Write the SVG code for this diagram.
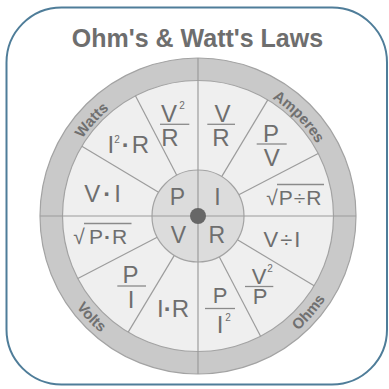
<svg xmlns="http://www.w3.org/2000/svg" width="389" height="389" viewBox="0 0 389 389">
<style>
.t{font-family:"Liberation Sans",Arial,sans-serif;fill:#6e6e6e;text-anchor:middle}
.f{font-size:24px}
.s{font-size:24px}
.r{font-size:21px}
.c{font-size:23px}
.sup{font-size:10px}
.dot{font-weight:bold}
.lab{font-family:"Liberation Sans",Arial,sans-serif;font-weight:bold;font-size:15px;fill:#707070;text-anchor:middle}
.div{stroke:#9c9c9c;stroke-width:1.2;fill:none}
.fr{stroke:#8a8a8a;stroke-width:1.3}
</style>
<defs>
<path id="pW" d="M59.1,211.15 A139,139 0 0 1 178.65,78.35"/>
<path id="pA" d="M211.32,77.64 A139,139 0 0 1 336.57,205.09"/>
<path id="pV" d="M46.28,225.28 A152,152 0 0 0 180.79,367.02"/>
<path id="pO" d="M221.78,366.13 A152,152 0 0 0 349.98,218.65"/>
</defs>
<rect x="0" y="0" width="389" height="389" fill="#ffffff"/>
<rect id="frame" x="6.5" y="7.5" width="380.5" height="377" rx="55" fill="#ffffff" stroke="#4f7d99" stroke-width="2"/>
<text class="t" x="197.5" y="46.5" style="font-size:25px;font-weight:bold;fill:#6e6e6e">Ohm's &amp; Watt's Laws</text>
<g id="wheel">
<circle cx="198" cy="216" r="158" fill="#c9c9c9" stroke="#a3a3a3" stroke-width="1.2"/>
<circle cx="198" cy="216" r="135.5" fill="#efefef" stroke="#a3a3a3" stroke-width="1.2"/>
</g>
<g id="connectors">
<line class="div" x1="221.69" y1="176.57" x2="267.79" y2="99.85"/>
<line class="div" x1="174.31" y1="255.43" x2="128.21" y2="332.15"/>
<line class="div" x1="238.80" y1="194.76" x2="318.19" y2="153.43"/>
<line class="div" x1="157.20" y1="237.24" x2="77.81" y2="278.57"/>
<line class="div" x1="237.43" y1="239.69" x2="314.15" y2="285.79"/>
<line class="div" x1="158.57" y1="192.31" x2="81.85" y2="146.21"/>
<line class="div" x1="219.24" y1="256.80" x2="260.57" y2="336.19"/>
<line class="div" x1="176.76" y1="175.20" x2="135.43" y2="95.81"/>
</g>
<g id="center">
<circle cx="198" cy="216" r="46" fill="#dcdcdc" stroke="#a3a3a3" stroke-width="1.2"/>
</g>
<g id="axes">
<line class="div" x1="198" y1="58" x2="198" y2="374"/>
<line class="div" x1="40" y1="216" x2="356" y2="216"/>
</g>
<circle id="hub" cx="198" cy="216" r="8" fill="#676767"/>
<g id="center-letters">
<text class="t c" x="177.5" y="205">P</text>
<text class="t c" x="217.5" y="205">I</text>
<text class="t c" x="178.3" y="243.3">V</text>
<text class="t c" x="216.7" y="243.3">R</text>
</g>
<g id="ring-labels">
<text class="lab"><textPath href="#pW" startOffset="50%">Watts</textPath></text>
<text class="lab"><textPath href="#pA" startOffset="50%">Amperes</textPath></text>
<text class="lab"><textPath href="#pV" startOffset="50%">Volts</textPath></text>
<text class="lab"><textPath href="#pO" startOffset="50%">Ohms</textPath></text>
</g>
<g id="n-V2R">
<text class="t f" x="169" y="121.5">V</text>
<text class="t sup" x="182" y="109">2</text>
<line class="fr" x1="160" y1="124.3" x2="189.3" y2="124.3"/>
<text class="t f" x="170" y="146">R</text>
</g>
<g id="n-I2R">
<text class="t s" x="128.3" y="152.7">I<tspan class="sup" dy="-10">2</tspan><tspan class="dot" dy="10" dx="2">·</tspan><tspan dx="2">R</tspan></text>
</g>
<g id="n-VI">
<text class="t s" x="102.5" y="201.7">V<tspan class="dot" dx="3">·</tspan><tspan dx="3">I</tspan></text>
</g>
<g id="n-sqrtPR">
<text class="t r" x="79" y="244.3">√</text>
<line class="fr" x1="84" y1="223.5" x2="131.5" y2="223.5"/>
<text class="t r" x="108" y="244.3">P<tspan class="dot" dx="1">·</tspan><tspan dx="1">R</tspan></text>
</g>
<g id="n-PI">
<text class="t f" x="130.5" y="283">P</text>
<line class="fr" x1="117.3" y1="286" x2="146" y2="286"/>
<text class="t f" x="131" y="308.3">I</text>
</g>
<g id="n-IR">
<text class="t s" x="173" y="317.3">I<tspan class="dot">·</tspan>R</text>
</g>
<g id="n-VR">
<text class="t f" x="222.5" y="121.5">V</text>
<line class="fr" x1="207.3" y1="124.3" x2="235" y2="124.3"/>
<text class="t f" x="221" y="146">R</text>
</g>
<g id="n-PV">
<text class="t f" x="271" y="141.5">P</text>
<line class="fr" x1="256.7" y1="144" x2="286.7" y2="144"/>
<text class="t f" x="271.7" y="166">V</text>
</g>
<g id="n-sqrtPdR">
<text class="t r" x="272" y="205">√</text>
<line class="fr" x1="277" y1="184.5" x2="324" y2="184.5"/>
<text class="t r" x="300.5" y="205" letter-spacing="1">P÷R</text>
</g>
<g id="n-VdI">
<text class="t" x="283" y="247.3" style="font-size:22px" letter-spacing="2">V÷I</text>
</g>
<g id="n-V2P">
<text class="t" x="259" y="284" style="font-size:22px">V</text>
<text class="t sup" x="270" y="272">2</text>
<line class="fr" x1="245" y1="286.5" x2="273.3" y2="286.5"/>
<text class="t" x="260" y="303.5" style="font-size:22px">P</text>
</g>
<g id="n-PI2">
<text class="t" x="220" y="303.3" style="font-size:22px">P</text>
<line class="fr" x1="205" y1="308.5" x2="235" y2="308.5"/>
<text class="t f" x="220" y="333">I</text>
<text class="t sup" x="228" y="321">2</text>
</g>
</svg>
